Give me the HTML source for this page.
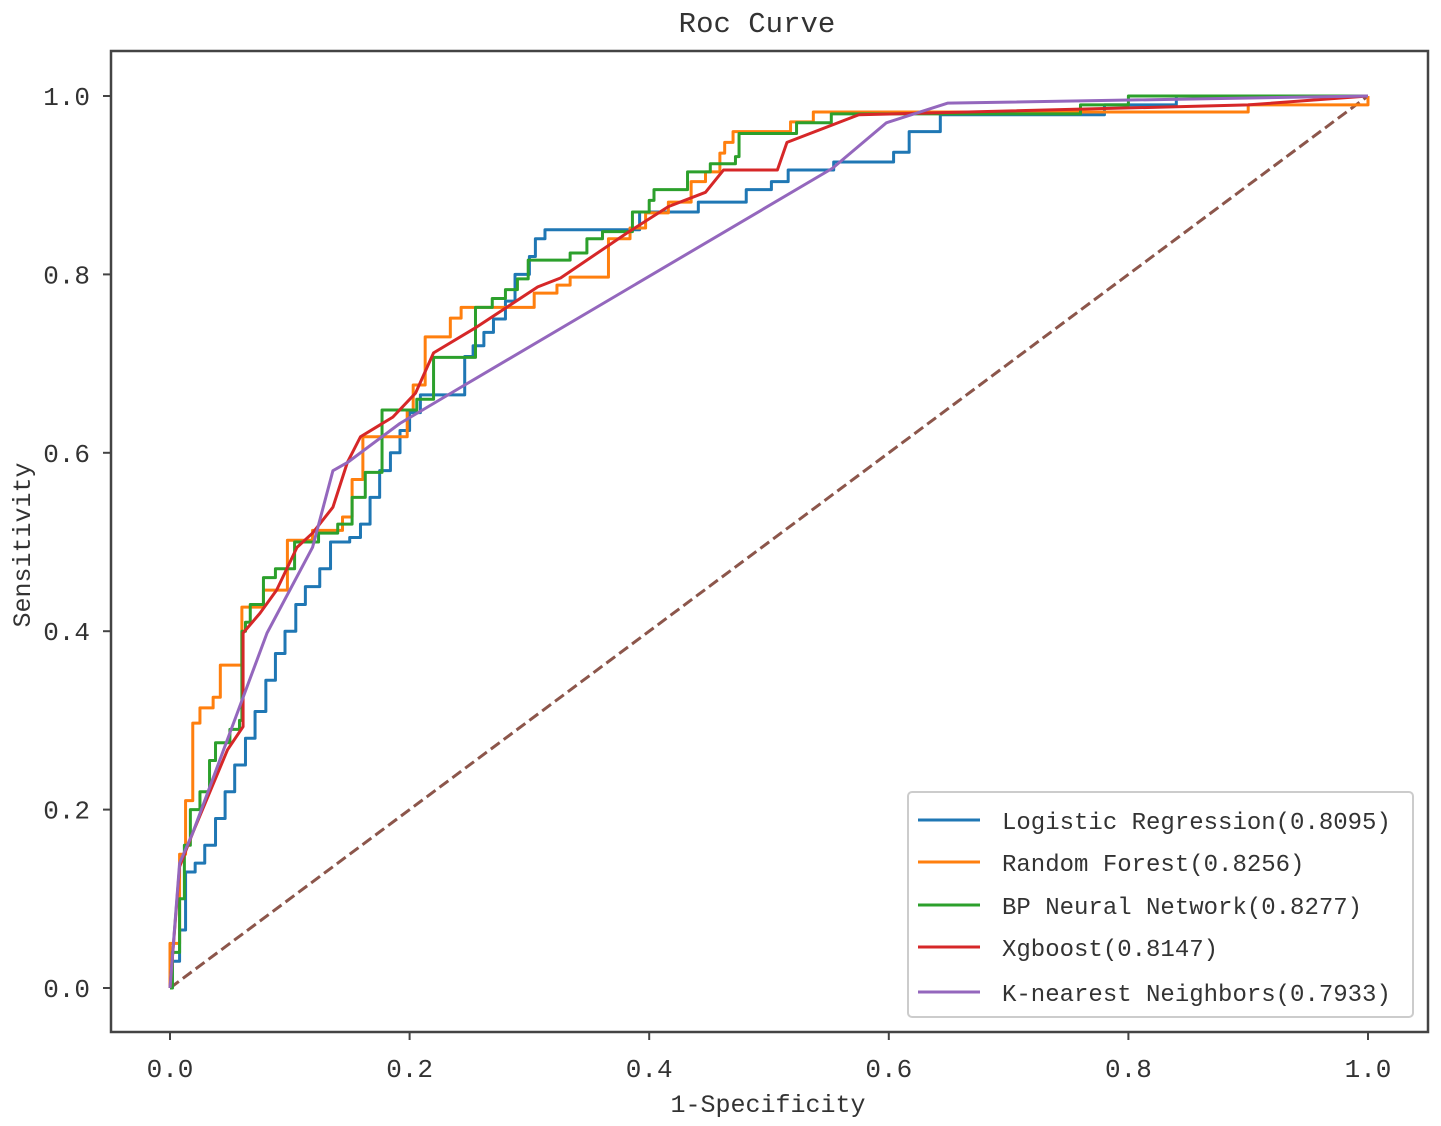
<!DOCTYPE html>
<html><head><meta charset="utf-8"><style>
html,body{margin:0;padding:0;background:#fff;}
svg{display:block;font-family:"Liberation Mono","WenQuanYi Zen Hei",monospace;}
</style></head><body>
<svg id="chart" width="1441" height="1126" viewBox="0 0 1441 1126" xmlns="http://www.w3.org/2000/svg">
<rect x="0" y="0" width="1441" height="1126" fill="#fff"/>
<g id="plot"></g>
</svg>
<script>
const xTicks = [0.0, 0.2, 0.4, 0.6, 0.8, 1.0];
const yTicks = [0.0, 0.2, 0.4, 0.6, 0.8, 1.0];
const seriesNames = ["Logistic Regression(0.8095)","Random Forest(0.8256)","BP Neural Network(0.8277)","Xgboost(0.8147)","K-nearest Neighbors(0.7933)"];
const lrFpr = [0,0.002,0.008,0.013,0.021,0.029,0.038,0.046,0.054,0.063,0.071,0.08,0.088,0.096,0.105,0.113,0.125,0.134,0.15,0.159,0.167,0.175,0.184,0.192,0.2,0.209,0.246,0.253,0.262,0.27,0.28,0.288,0.3,0.305,0.313,0.392,0.441,0.481,0.502,0.516,0.554,0.604,0.617,0.643,0.78,0.84,1];
const lrTpr = [0,0.03,0.065,0.13,0.14,0.16,0.19,0.22,0.25,0.28,0.31,0.345,0.375,0.4,0.43,0.45,0.47,0.5,0.505,0.52,0.55,0.58,0.6,0.625,0.645,0.665,0.708,0.72,0.735,0.75,0.77,0.8,0.82,0.84,0.85,0.87,0.881,0.895,0.904,0.917,0.926,0.937,0.96,0.979,0.99,1,1];
const rfFpr = [0,0,0.008,0.013,0.019,0.025,0.036,0.042,0.06,0.078,0.098,0.119,0.144,0.152,0.161,0.198,0.203,0.213,0.234,0.243,0.304,0.323,0.334,0.366,0.366,0.384,0.397,0.416,0.435,0.447,0.459,0.463,0.47,0.518,0.537,0.9,1];
const rfTpr = [0,0.05,0.15,0.21,0.297,0.314,0.326,0.362,0.427,0.446,0.502,0.513,0.528,0.57,0.618,0.648,0.676,0.73,0.751,0.763,0.779,0.788,0.797,0.82,0.84,0.852,0.869,0.881,0.904,0.915,0.936,0.948,0.96,0.971,0.982,0.99,1];
const bpFpr = [0,0.002,0.008,0.012,0.017,0.025,0.033,0.038,0.05,0.058,0.06,0.063,0.067,0.078,0.088,0.104,0.124,0.14,0.152,0.163,0.177,0.206,0.22,0.255,0.269,0.28,0.29,0.299,0.334,0.348,0.361,0.386,0.4,0.404,0.432,0.451,0.472,0.475,0.523,0.552,0.76,0.8,1];
const bpTpr = [0,0.04,0.1,0.16,0.2,0.22,0.255,0.275,0.29,0.3,0.4,0.41,0.43,0.46,0.47,0.5,0.51,0.52,0.55,0.578,0.648,0.66,0.707,0.763,0.773,0.783,0.795,0.816,0.824,0.84,0.848,0.87,0.883,0.895,0.915,0.924,0.932,0.958,0.97,0.98,0.99,1,1];
const xgFpr = [0,0.008,0.019,0.048,0.061,0.061,0.075,0.089,0.106,0.119,0.136,0.148,0.159,0.186,0.205,0.22,0.256,0.307,0.326,0.381,0.416,0.447,0.462,0.507,0.515,0.575,0.9,1];
const xgTpr = [0,0.136,0.174,0.267,0.293,0.398,0.42,0.446,0.494,0.51,0.539,0.589,0.618,0.64,0.667,0.712,0.741,0.786,0.796,0.846,0.876,0.892,0.917,0.917,0.948,0.979,0.99,1];
const knnFpr = [0,0.008,0.019,0.05,0.081,0.119,0.136,0.148,0.192,0.246,0.553,0.598,0.649,1];
const knnTpr = [0,0.14,0.174,0.286,0.398,0.494,0.58,0.589,0.633,0.676,0.919,0.97,0.992,1];

const NS = "http://www.w3.org/2000/svg";
const g = document.getElementById('plot');
const X = v => 170 + v * 1198;
const Y = v => 988 - v * 892;
function mk(tag, attrs, parent) {
  const e = document.createElementNS(NS, tag);
  for (const k in attrs) e.setAttribute(k, attrs[k]);
  (parent || g).appendChild(e);
  return e;
}
const frame = mk('rect', {x:111, y:51, width:1317, height:981, fill:'none', stroke:'#444', 'stroke-width':2.5});



xTicks.forEach(t => {
  const l = mk('line', {x1:X(t), x2:X(t), y1:1032, y2:1040, stroke:'#444', 'stroke-width':2});
  
  
  const tx = mk('text', {x:X(t), y:1077, 'text-anchor':'middle', 'font-size':26, fill:'#333'});
  tx.textContent = t.toFixed(1);
  
  
});
yTicks.forEach(t => {
  const l = mk('line', {x1:103, x2:111, y1:Y(t), y2:Y(t), stroke:'#444', 'stroke-width':2});
  
  
  const tx = mk('text', {x:90, y:Y(t) + 9, 'text-anchor':'end', 'font-size':26, fill:'#333'});
  tx.textContent = t.toFixed(1);
  
  
});

const diag = mk('line', {x1:X(0), y1:Y(0), x2:X(1), y2:Y(1), stroke:'#8c564b', 'stroke-width':3, 'stroke-dasharray':'11,5'});



function stepPath(xs, ys) {
  let d = 'M' + X(xs[0]) + ' ' + Y(ys[0]);
  for (let i = 1; i < xs.length; i++) {
    d += ' L' + X(xs[i]) + ' ' + Y(ys[i-1]) + ' L' + X(xs[i]) + ' ' + Y(ys[i]);
  }
  return d;
}
function linePath(xs, ys) {
  return xs.map((x, i) => (i ? 'L' : 'M') + X(x) + ' ' + Y(ys[i])).join(' ');
}
const colors = ['#1f77b4','#ff7f0e','#2ca02c','#d62728','#9467bd'];
const curves = [
  {xs:lrFpr, ys:lrTpr, step:true},
  {xs:rfFpr, ys:rfTpr, step:true},
  {xs:bpFpr, ys:bpTpr, step:true},
  {xs:xgFpr, ys:xgTpr, step:false},
  {xs:knnFpr, ys:knnTpr, step:false}
];
const curveNames = ['logistic-regression-curve','random-forest-curve','bp-neural-network-curve','xgboost-curve','knn-curve'];
curves.forEach((c, i) => {
  const p = mk('path', {d: c.step ? stepPath(c.xs, c.ys) : linePath(c.xs, c.ys), fill:'none', stroke:colors[i], 'stroke-width':3, 'stroke-linejoin':'round'});
  
  
});

const lg = mk('g', {});


mk('rect', {x:908, y:792, width:505, height:225, rx:4, fill:'#fff', 'fill-opacity':0.85, stroke:'#ccc', 'stroke-width':2}, lg);
const legendY = [820, 862, 905, 947, 992];
seriesNames.forEach((n, i) => {
  const e = mk('g', {}, lg);
  
  
  mk('line', {x1:918, x2:980, y1:legendY[i], y2:legendY[i], stroke:colors[i], 'stroke-width':3}, e);
  const t = mk('text', {x:1002, y:legendY[i] + 9, 'font-size':24, fill:'#333'}, e);
  t.textContent = n;
});

const title = mk('text', {x:757, y:32, 'text-anchor':'middle', 'font-size':29, fill:'#333'});
title.textContent = 'Roc Curve';


const xl = mk('text', {x:768, y:1112, 'text-anchor':'middle', 'font-size':25, fill:'#333'});
xl.textContent = '1-Specificity';


const yl = mk('text', {x:0, y:0, 'text-anchor':'middle', 'font-size':25, fill:'#333', transform:'translate(30,545) rotate(-90)'});
yl.textContent = 'Sensitivity';


</script>
</body></html>
